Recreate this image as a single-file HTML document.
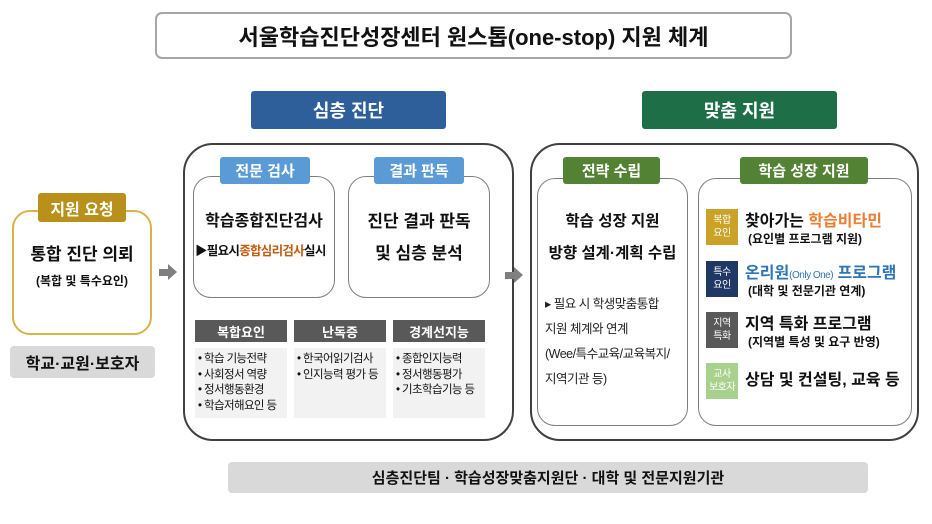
<!DOCTYPE html>
<html><head><meta charset="utf-8"><style>
*{margin:0;padding:0;box-sizing:border-box}
body{width:932px;height:524px;background:#fff;position:relative;overflow:hidden;font-family:"Liberation Sans","Noto Sans CJK KR",sans-serif;color:#111}
.a{position:absolute}
.c{display:flex;align-items:center;justify-content:center;text-align:center}
.tag{color:#fff;font-weight:bold;font-size:15px;border-radius:3px}
.hd{background:#595959;color:#fff;font-size:13px;font-weight:bold}
.ls{background:#f2f2f2;font-size:11.5px;line-height:15.5px;padding:4px 3px;letter-spacing:-0.6px}
.bd{color:#fff;font-size:10px;line-height:13px;letter-spacing:-0.5px}
.arr{width:0;height:0;border-top:8px solid transparent;border-bottom:8px solid transparent;border-left:9px solid #7f7f7f}
</style></head><body>
<div class="a c" style="left:155px;top:12px;width:637px;height:47px;border:2px solid #a6a6a6;border-radius:7px;font-size:22px;font-weight:bold">서울학습진단성장센터 원스톱(one-stop) 지원 체계</div>
<div class="a c tag" style="left:251px;top:91px;width:195px;height:38px;background:#2e5f9a;font-size:18px">심층 진단</div>
<div class="a c tag" style="left:642px;top:91px;width:195px;height:38px;background:#1e6e48;font-size:18px">맞춤 지원</div>

<!-- left -->
<div class="a" style="left:12px;top:210px;width:140px;height:125px;border:2px solid #d8b24a;border-radius:18px"></div>
<div class="a c tag" style="left:38px;top:193px;width:88px;height:29px;background:#b8901a;font-size:16px">지원 요청</div>
<div class="a c" style="left:12px;top:240px;width:140px;font-size:17px;font-weight:bold">통합 진단 의뢰</div>
<div class="a c" style="left:12px;top:272px;width:140px;font-size:12px;font-weight:bold">(복합 및 특수요인)</div>
<div class="a c" style="left:10px;top:346px;width:145px;height:32px;background:#d9d9d9;border-radius:4px;font-size:16px;font-weight:bold">학교·교원·보호자</div>
<div class="a" style="left:159px;top:269px;width:10px;height:7px;background:#7f7f7f"></div>
<div class="a arr" style="left:168px;top:264px"></div>

<!-- box 1 -->
<div class="a" style="left:183px;top:143px;width:331px;height:298px;border:2px solid #404040;border-radius:30px"></div>
<div class="a" style="left:193px;top:176px;width:142px;height:122px;border:1.5px solid #7f7f7f;border-radius:18px"></div>
<div class="a" style="left:348px;top:176px;width:142px;height:122px;border:1.5px solid #7f7f7f;border-radius:18px"></div>
<div class="a c tag" style="left:220px;top:157px;width:90px;height:27px;background:#5b9bd5">전문 검사</div>
<div class="a c tag" style="left:374px;top:157px;width:90px;height:27px;background:#5b9bd5">결과 판독</div>
<div class="a c" style="left:193px;top:207px;width:142px;font-size:16px;font-weight:bold">학습종합진단검사</div>
<div class="a" style="left:195px;top:240px;width:142px;font-size:12.5px;font-weight:bold;letter-spacing:-0.7px;white-space:nowrap">▶필요시<span style="color:#c55a11">종합심리검사</span>실시</div>
<div class="a c" style="left:348px;top:206px;width:142px;font-size:17px;font-weight:bold;line-height:32px">진단 결과 판독<br>및 심층 분석</div>
<div class="a c hd" style="left:195px;top:320px;width:92px;height:22px">복합요인</div>
<div class="a c hd" style="left:294px;top:320px;width:92px;height:22px">난독증</div>
<div class="a c hd" style="left:393px;top:320px;width:92px;height:22px">경계선지능</div>
<div class="a ls" style="left:195px;top:348px;width:92px;height:70px">• 학습 기능전략<br>• 사회정서 역량<br>• 정서행동환경<br>• 학습저해요인 등</div>
<div class="a ls" style="left:294px;top:348px;width:92px;height:70px">• 한국어읽기검사<br>• 인지능력 평가 등</div>
<div class="a ls" style="left:393px;top:348px;width:92px;height:70px">• 종합인지능력<br>• 정서행동평가<br>• 기초학습기능 등</div>
<div class="a" style="left:505px;top:272px;width:10px;height:7px;background:#7f7f7f"></div>
<div class="a arr" style="left:514px;top:267px"></div>

<!-- box 2 -->
<div class="a" style="left:530px;top:143px;width:389px;height:298px;border:2px solid #404040;border-radius:30px"></div>
<div class="a" style="left:537px;top:178px;width:151px;height:248px;border:1.5px solid #7f7f7f;border-radius:18px"></div>
<div class="a" style="left:698px;top:178px;width:214px;height:248px;border:1.5px solid #7f7f7f;border-radius:18px"></div>
<div class="a c tag" style="left:563px;top:157px;width:97px;height:27px;background:#548235">전략 수립</div>
<div class="a c tag" style="left:740px;top:157px;width:128px;height:27px;background:#548235">학습 성장 지원</div>
<div class="a c" style="left:537px;top:206px;width:151px;font-size:15.5px;font-weight:bold;line-height:32px">학습 성장 지원<br>방향 설계·계획 수립</div>
<div class="a" style="left:545px;top:292px;width:145px;font-size:12.5px;line-height:25px;letter-spacing:-0.5px;color:#222">▸ 필요 시 학생맞춤통합<br>지원 체계와 연계<br>(Wee/특수교육/교육복지/<br>지역기관 등)</div>

<div class="a c bd" style="left:706px;top:209px;width:32px;height:36px;background:#c9a227">복합<br>요인</div>
<div class="a" style="left:745px;top:207px;font-size:16px;font-weight:bold;white-space:nowrap">찾아가는 <span style="color:#ed7d31">학습비타민</span></div>
<div class="a" style="left:748px;top:230px;font-size:12px;font-weight:bold;white-space:nowrap">(요인별 프로그램 지원)</div>
<div class="a c bd" style="left:706px;top:261px;width:32px;height:36px;background:#1f3864">특수<br>요인</div>
<div class="a" style="left:745px;top:259px;font-size:16px;font-weight:bold;white-space:nowrap;color:#2e75b6">온리원<span style="font-size:10px;font-weight:normal;letter-spacing:-0.5px">(Only One)</span> 프로그램</div>
<div class="a" style="left:748px;top:282px;font-size:12px;font-weight:bold;white-space:nowrap">(대학 및 전문기관 연계)</div>
<div class="a c bd" style="left:706px;top:312px;width:32px;height:36px;background:#595959">지역<br>특화</div>
<div class="a" style="left:745px;top:310px;font-size:16px;font-weight:bold;white-space:nowrap">지역 특화 프로그램</div>
<div class="a" style="left:748px;top:333px;font-size:12px;font-weight:bold;white-space:nowrap">(지역별 특성 및 요구 반영)</div>
<div class="a c bd" style="left:706px;top:363px;width:32px;height:36px;background:#a9d18e">교사<br>보호자</div>
<div class="a" style="left:745px;top:366px;font-size:16px;font-weight:bold;white-space:nowrap">상담 및 컨설팅, 교육 등</div>

<div class="a c" style="left:228px;top:462px;width:640px;height:31px;background:#d9d9d9;border-radius:4px;font-size:15px;font-weight:bold">심층진단팀 · 학습성장맞춤지원단 · 대학 및 전문지원기관</div>
</body></html>
